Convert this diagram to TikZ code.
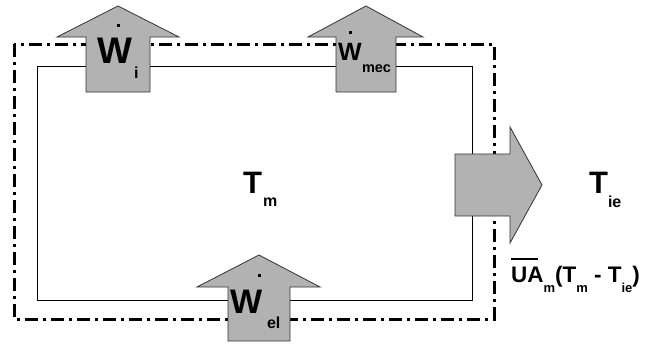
\documentclass[tikz,border=0pt]{standalone}
\usepackage{fontspec}
\setmainfont{Liberation Sans}
\begin{document}
\begin{tikzpicture}[x=1pt,y=-1pt,
  arrowshape/.style={fill=black!30,draw=black!80,line width=0.8pt,line join=miter},
  boundary/.style={line width=3pt,dash pattern=on 13pt off 5pt on 3pt off 5pt},
  wall/.style={line width=0.9pt,draw=black},
  lbl/.style={inner sep=0pt,outer sep=0pt,anchor=base west,font=\bfseries},
  dotmark/.style={fill=black}]
\useasboundingbox (0,0) rectangle (648,343);
% system boundary and wall
\draw[boundary] (14,44) rectangle (494,319);
\draw[wall] (37,66) rectangle (472,300);
% arrows
\draw[arrowshape] (86,92) -- (86,37) -- (57,37) -- (118,6) -- (179,37) -- (150,37) -- (150,92) -- cycle;
\draw[arrowshape] (336,92) -- (336,37) -- (308,37) -- (366,6) -- (423,37) -- (396,37) -- (396,92) -- cycle;
\draw[arrowshape] (228,341) -- (228,287) -- (197,287) -- (259,255) -- (320,287) -- (290,287) -- (290,341) -- cycle;
\draw[arrowshape] (455,154) -- (510,154) -- (510,127) -- (542,185) -- (510,243) -- (510,216) -- (455,216) -- cycle;
% W_i
\node[lbl] (wi) at (97,63) {\fontsize{37}{37}\selectfont W};
\node[lbl] (wis) at (134,78) {\fontsize{16}{16}\selectfont i};
\fill[dotmark] (116.5,23.5) rectangle (120,27);
% W_mec
\node[lbl] (wm) at (338,60) {\fontsize{25}{25}\selectfont W};
\node[lbl] (wms) at (362,72) {\fontsize{14.5}{14.5}\selectfont mec};
\fill[dotmark] (348.5,30.5) rectangle (352,34);
% W_el
\node[lbl] (we) at (230,313) {\fontsize{34}{34}\selectfont W};
\node[lbl] (wes) at (267,328) {\fontsize{16}{16}\selectfont el};
\fill[dotmark] (257.5,273.5) rectangle (261,277);
% T_m
\node[lbl] (tm) at (243,193) {\fontsize{31}{31}\selectfont T};
\node[lbl] (tms) at (263,206) {\fontsize{16}{16}\selectfont m};
% T_ie
\node[lbl] (tie) at (589,193) {\fontsize{31}{31}\selectfont T};
\node[lbl] (ties) at (608,207) {\fontsize{16}{16}\selectfont ie};
% heat flow label
\node[lbl] (ua) at (511,282) {\fontsize{22.5}{22.5}\selectfont
  \makebox[0pt][l]{\raisebox{22pt}{\rule{27pt}{2pt}}}UA\raisebox{-10pt}{\fontsize{13}{13}\selectfont m}(T\raisebox{-10pt}{\fontsize{13}{13}\selectfont m} - T\raisebox{-10pt}{\fontsize{13}{13}\selectfont ie})};
\end{tikzpicture}
\end{document}
